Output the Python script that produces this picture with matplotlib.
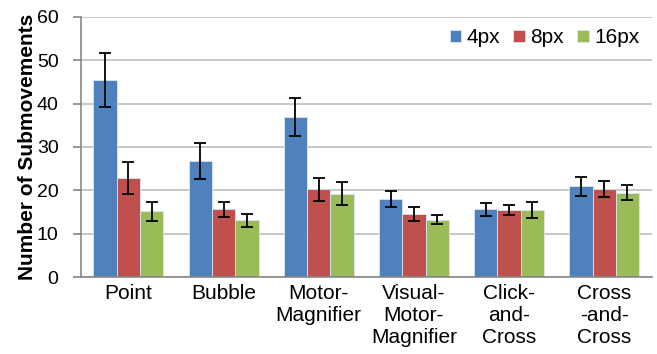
import numpy as np
import matplotlib.pyplot as plt

# ── DATA ────────────────────────────────────────────
categories = ["Point", "Bubble", "Motor-\nMagnifier", "Visual-\nMotor-\nMagnifier",
              "Click-\nand-\nCross", "Cross\n-and-\nCross"]
series = ["4px", "8px", "16px"]

mean_4px = [45.4, 26.8, 37.0, 17.9, 15.6, 20.9]
mean_8px = [22.9, 15.6, 20.2, 14.6, 15.4, 20.3]
mean_16px = [15.2, 13.1, 19.2, 13.2, 15.5, 19.5]

err_4px = [6.2, 4.2, 4.4, 1.85, 1.5, 2.2]
err_8px = [3.7, 1.8, 2.6, 1.6, 1.2, 1.85]
err_16px = [2.2, 1.5, 2.65, 1.0, 1.9, 1.7]

colors = ["#4F81BD", "#C0504D", "#9BBB59"]

# ── PLOT ────────────────────────────────────────────
plt.rcParams['font.family'] = ['Liberation Sans', 'DejaVu Sans']

fig = plt.figure(figsize=(6.57, 3.54), dpi=100)
ax = fig.add_axes([0.123, 0.2175, 0.869, 0.7345])

x = np.arange(len(categories))
w = 0.245
for i, (m, e, name) in enumerate(zip([mean_4px, mean_8px, mean_16px],
                                     [err_4px, err_8px, err_16px], series)):
    ax.bar(x + (i - 1) * w, m, w, color=colors[i], edgecolor="#DCE6F2",
           linewidth=0.6, label=name, zorder=2,
           yerr=e, capsize=4, error_kw=dict(ecolor="black", elinewidth=1.3, capthick=1.3))

ax.set_xlim(-0.5, len(categories) - 0.5)
ax.set_ylim(0, 60)
ax.set_yticks(range(0, 61, 10))
ax.yaxis.grid(True, color="#BFBFBF", linewidth=1.2, zorder=0)
ax.set_axisbelow(True)

for s in ["top", "right"]:
    ax.spines[s].set_visible(False)
ax.spines["left"].set_color("#868686")
ax.spines["bottom"].set_color("#868686")
ax.spines["left"].set_linewidth(1.2)
ax.spines["bottom"].set_linewidth(1.2)

ax.set_xticks(x)
ax.set_xticklabels(categories, fontsize=15, va="top", linespacing=1.2)
ax.tick_params(axis="x", length=0, pad=5)
ax.tick_params(axis="y", length=6, color="#868686", width=1.2, labelsize=14, pad=10)
ax.set_ylabel("Number of Submovements", fontsize=15, fontweight="bold", labelpad=0)

ax.legend(loc="upper right", ncol=3, frameon=False, fontsize=15, handlelength=0.55,
          handleheight=0.55, handletextpad=0.25, columnspacing=0.65,
          bbox_to_anchor=(1.0, 1.005), borderaxespad=0.2)

plt.savefig("out.png", dpi=100)
